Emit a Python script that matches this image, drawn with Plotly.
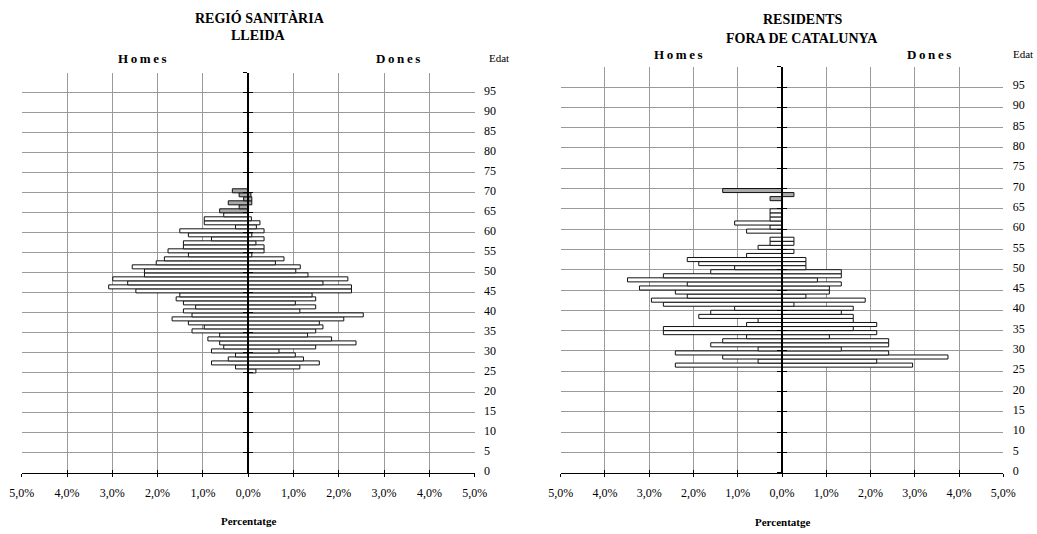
import plotly.graph_objects as go

# ---------------- data ----------------
ages_lleida = list(range(25, 71))
homes_lleida = [0.00, 0.28, 0.81, 0.44, 0.28, 0.81, 0.54, 0.63, 0.89, 0.63,
                1.24, 0.97, 1.32, 1.68, 1.24, 1.43, 1.16, 1.43, 1.59, 1.51,
                2.48, 3.08, 2.66, 2.99, 2.29, 2.29, 2.56, 2.03, 1.85, 1.32,
                1.77, 1.43, 1.43, 0.81, 1.32, 1.51, 0.28, 0.97, 0.97, 0.54,
                0.63, 0.20, 0.44, 0.10, 0.20, 0.35]
dones_lleida = [0.17, 1.14, 1.57, 1.22, 1.04, 0.68, 1.49, 2.38, 1.84, 1.31,
                1.49, 1.65, 1.57, 2.11, 2.54, 1.14, 1.49, 1.04, 1.49, 1.41,
                2.28, 2.28, 1.65, 2.20, 1.32, 1.05, 1.15, 0.60, 0.79, 0.08,
                0.35, 0.35, 0.17, 0.35, 0.08, 0.35, 0.18, 0.26, 0.07, 0.00,
                0.00, 0.00, 0.08, 0.08, 0.06, 0.00]

ages_fora = list(range(25, 70))
homes_fora = [0.00, 2.41, 0.54, 1.34, 2.41, 0.54, 1.61, 1.34, 0.80, 2.68,
              2.68, 0.80, 0.54, 1.88, 1.61, 1.07, 2.68, 2.95, 2.14, 2.41,
              3.22, 2.14, 3.49, 2.68, 1.61, 1.07, 1.88, 2.14, 0.80, 0.00,
              0.54, 0.27, 0.27, 0.00, 0.80, 0.27, 1.07, 0.27, 0.27, 0.27,
              0.00, 0.00, 0.27, 0.00, 1.34]
dones_fora = [0.00, 2.95, 2.14, 3.75, 2.41, 1.34, 2.41, 2.41, 1.07, 2.14,
              1.61, 2.14, 1.61, 1.61, 1.34, 1.61, 0.27, 1.88, 0.54, 1.07,
              1.07, 1.34, 0.80, 1.34, 1.34, 0.54, 0.54, 0.54, 0.00, 0.27,
              0.00, 0.27, 0.27, 0.00, 0.00, 0.00, 0.00, 0.00, 0.00, 0.00,
              0.00, 0.00, 0.00, 0.27, 0.00]

pct_ticks = [-5, -4, -3, -2, -1, 0, 1, 2, 3, 4, 5]
pct_labels = ["5,0%", "4,0%", "3,0%", "2,0%", "1,0%", "0,0%",
              "1,0%", "2,0%", "3,0%", "4,0%", "5,0%"]
age_labels = [str(a) for a in range(0, 100, 5)]
grey_from_age = 65

# ---------------- layout geometry ----------------
W, H = 1037, 534
FONT = "Liberation Serif, Times New Roman, serif"


def px_x(v):
    return v / W


def px_y(v):
    return 1 - v / H


panels = [
    dict(x0=21.7, x1=474.7, ytop=72.7, ybot=473.0),
    dict(x0=560.7, x1=1003.3, ytop=66.7, ybot=472.7),
]

fig = go.Figure()

datasets = [(ages_lleida, homes_lleida, dones_lleida),
            (ages_fora, homes_fora, dones_fora)]

for i, (ages, homes, dones) in enumerate(datasets):
    xa = "x" if i == 0 else "x2"
    ya = "y" if i == 0 else "y2"
    ypos = [a + 0.5 for a in ages]
    colors = ["#aaaaaa" if a >= grey_from_age else "white" for a in ages]
    fig.add_trace(go.Bar(
        x=[-v if v else None for v in homes], y=ypos, orientation="h",
        width=1,
        marker=dict(color=colors, line=dict(color="#111111", width=1)),
        xaxis=xa, yaxis=ya, showlegend=False, hoverinfo="skip"))
    fig.add_trace(go.Bar(
        x=[v if v else None for v in dones], y=ypos, orientation="h",
        width=1,
        marker=dict(color=colors, line=dict(color="#111111", width=1)),
        xaxis=xa, yaxis=ya, showlegend=False, hoverinfo="skip"))
    # empty traces so the overlay axes are drawn
    fig.add_trace(go.Scatter(x=[], y=[], xaxis="x%d" % (3 + i), yaxis=ya,
                             showlegend=False, hoverinfo="skip"))
    fig.add_trace(go.Scatter(x=[], y=[], xaxis=xa, yaxis="y%d" % (3 + i),
                             showlegend=False, hoverinfo="skip"))
    fig.add_trace(go.Scatter(x=[], y=[], xaxis=xa, yaxis="y%d" % (5 + i),
                             showlegend=False, hoverinfo="skip"))

layout = dict(
    width=W, height=H, margin=dict(l=0, r=0, t=0, b=0, autoexpand=False),
    paper_bgcolor="white", plot_bgcolor="white",
    barmode="overlay", bargap=0,
    font=dict(family=FONT, size=12, color="black"),
    showlegend=False,
)

for i, p in enumerate(panels):
    xdom = [px_x(p["x0"]), px_x(p["x1"])]
    ydom = [px_y(p["ybot"]), px_y(p["ytop"])]
    center = (xdom[0] + xdom[1]) / 2
    mx = "xaxis" if i == 0 else "xaxis2"
    my = "yaxis" if i == 0 else "yaxis2"
    ya_ref = "y" if i == 0 else "y2"
    xa_ref = "x" if i == 0 else "x2"
    layout[mx] = dict(
        domain=xdom, range=[-5, 5], anchor=ya_ref, fixedrange=True,
        automargin=False,
        tickvals=pct_ticks, ticktext=pct_labels,
        showgrid=True, gridcolor="#9a9a9a", gridwidth=1, zeroline=False,
        showline=True, linecolor="black", linewidth=1,
        ticks="outside", ticklen=3, tickcolor="black", tickwidth=1,
        ticklabelstandoff=6,
        tickfont=dict(family=FONT, size=12, color="black"))
    layout["xaxis%d" % (3 + i)] = dict(
        overlaying=xa_ref, range=[-5, 5], anchor=ya_ref, fixedrange=True,
        automargin=False,
        tickvals=pct_ticks, showticklabels=False, showgrid=False,
        zeroline=False, showline=False,
        ticks="inside", ticklen=3, tickcolor="black", tickwidth=1)
    layout[my] = dict(
        domain=ydom, range=[0, 100], anchor="free", position=center,
        fixedrange=True, automargin=False, tickvals=list(range(0, 101, 5)),
        showticklabels=False, showgrid=True, gridcolor="#9a9a9a",
        gridwidth=1, zeroline=False,
        showline=True, linecolor="black", linewidth=2,
        ticks="outside", ticklen=4, tickcolor="black", tickwidth=1)
    layout["yaxis%d" % (3 + i)] = dict(
        overlaying=ya_ref, range=[0, 100], anchor="free", position=center,
        fixedrange=True, automargin=False, tickvals=list(range(0, 101, 5)),
        showticklabels=False, showgrid=False, zeroline=False,
        showline=False,
        ticks="inside", ticklen=4, tickcolor="black", tickwidth=1)
    layout["yaxis%d" % (5 + i)] = dict(
        overlaying=ya_ref, range=[0, 100], anchor=xa_ref, side="right",
        fixedrange=True, automargin=False,
        tickvals=[int(t) + 0.5 for t in age_labels], ticktext=age_labels,
        showgrid=False, zeroline=False, showline=False,
        ticks="outside", ticklen=6, tickcolor="rgba(0,0,0,0)",
        tickfont=dict(family=FONT, size=12, color="black"))

fig.update_layout(**layout)

sp = "\u2009"


def ann(text, x, y, size, bold=False):
    t = "<b>%s</b>" % text if bold else text
    fig.add_annotation(text=t, x=px_x(x), y=px_y(y), xref="paper",
                       yref="paper", showarrow=False, xanchor="center",
                       yanchor="middle",
                       font=dict(family=FONT, size=size, color="black"))


# left panel texts
ann("REGIÓ SANITÀRIA", 260, 18, 14, True)
ann("LLEIDA", 258, 35, 14, True)
ann(sp.join("Homes"), 142, 58, 13, True)
ann(sp.join("Dones"), 398, 58, 13, True)
ann("Edat", 499, 58, 11)
ann("Percentatge", 248, 521, 11, True)

# right panel texts
ann("RESIDENTS", 803, 20, 14, True)
ann("FORA DE CATALUNYA", 802, 38.5, 14, True)
ann(sp.join("Homes"), 678, 54, 13, True)
ann(sp.join("Dones"), 929, 54, 13, True)
ann("Edat", 1023, 54, 11)
ann("Percentatge", 782, 522, 11, True)

fig.write_html(
    "out.html",
    config={"displayModeBar": False, "staticPlot": True},
    post_script=("document.body.style.margin='0';"
                 "document.body.style.padding='0';"
                 "document.body.style.overflow='hidden';"),
)
